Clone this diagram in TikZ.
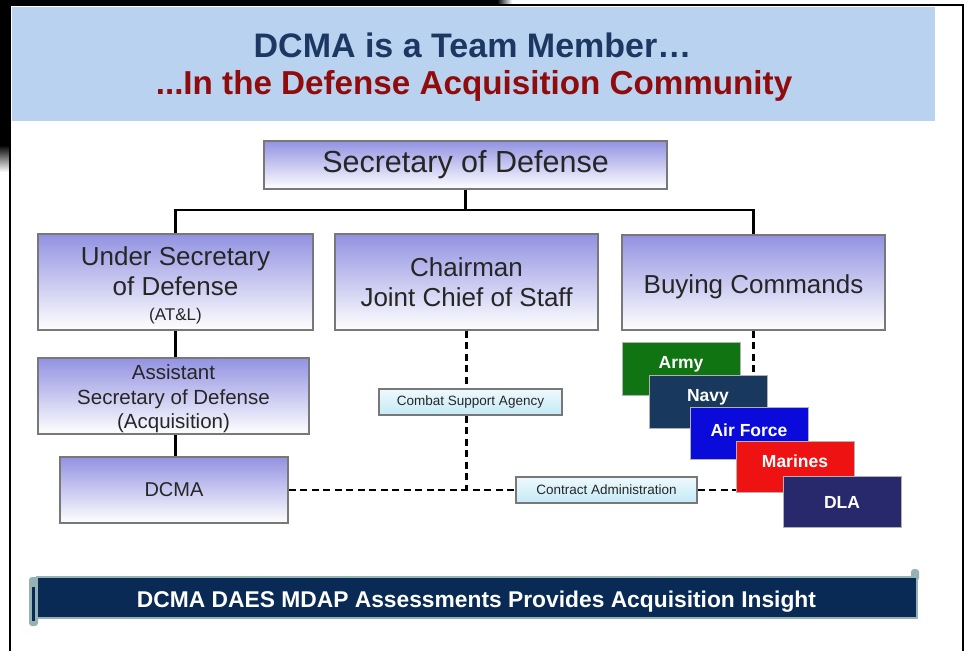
\documentclass[tikz,border=0pt]{standalone}
\usepackage{fontspec}
\setmainfont{Liberation Sans}
\usetikzlibrary{shadows}

\definecolor{bandblue}{RGB}{185,210,239}
\definecolor{titlenavy}{RGB}{28,56,98}
\definecolor{titlered}{RGB}{144,12,12}
\definecolor{boxtop}{RGB}{146,146,226}
\definecolor{boxmid}{RGB}{196,196,242}
\definecolor{boxedge}{RGB}{120,120,120}
\definecolor{boxtext}{RGB}{38,38,38}
\definecolor{tagtop}{RGB}{238,249,253}
\definecolor{tagbot}{RGB}{196,234,246}
\definecolor{armygreen}{RGB}{16,116,18}
\definecolor{navyblue}{RGB}{24,56,94}
\definecolor{afblue}{RGB}{10,10,218}
\definecolor{marinered}{RGB}{238,18,18}
\definecolor{dlablue}{RGB}{40,40,108}
\definecolor{bannernavy}{RGB}{8,42,84}
\definecolor{bannerrim}{RGB}{150,178,178}

\begin{document}
\begin{tikzpicture}[x=1pt,y=-1pt,
  orgbox/.style={draw=boxedge, line width=1.6pt, top color=boxtop,
    middle color=boxmid, bottom color=white, inner sep=0pt,
    text=boxtext, align=center,
    drop shadow={shadow xshift=1.2pt, shadow yshift=-1.2pt, opacity=0.35}},
  tagbox/.style={draw=boxedge, line width=1.4pt, top color=tagtop,
    bottom color=tagbot, inner sep=0pt, text=boxtext,
    minimum height=26pt, font=\fontsize{13.5}{16}\selectfont},
  svcbox/.style={draw=gray!60, line width=1pt, inner sep=0pt,
    minimum width=118pt, minimum height=52pt},
  svclbl/.style={text=white, font=\bfseries\fontsize{17.5}{20}\selectfont},
  solidlink/.style={line width=2.5pt, black},
  dashlink/.style={line width=2.8pt, black, dash pattern=on 7pt off 4.5pt},
  frameline/.style={line width=2.4pt, black}
]
\useasboundingbox (0,0) rectangle (966,651);

% dark surround behind the panel
\fill[black] (0,0) rectangle (497,5);
\shade[left color=black, right color=white] (497,0) rectangle (512,5);
\fill[black] (0,0) rectangle (10,145);
\shade[top color=black, bottom color=white] (0,145) rectangle (10,172);

% panel frame
\draw[frameline] (10,651) -- (10,5) -- (963,5) -- (963,651);

% header band and titles
\fill[bandblue] (12,7) rectangle (935,121);
\node[anchor=base, text=titlenavy, font=\bfseries\fontsize{34}{40}\selectfont]
  (title1) at (472.5,57) {DCMA is a Team Member…};
\node[anchor=base, text=titlered, font=\bfseries\fontsize{33.2}{40}\selectfont]
  (title2) at (474,94) {...In the Defense Acquisition Community};

% bus coordinates
\coordinate (bus) at (0,210);
\coordinate (join) at (0,490);

% organisation boxes
\node[orgbox, minimum width=403pt, minimum height=48pt,
  font=\fontsize{30.5}{36}\selectfont] (sec) at (465.5,165) {Secretary of Defense};
\node[orgbox, minimum width=275pt, minimum height=96pt,
  font=\fontsize{26}{30}\selectfont] (usd) at (175.5,282)
  {\rule{0pt}{25pt}Under Secretary\\of Defense\\[-5pt]{\fontsize{17}{20}\selectfont (AT\&L)}};
\node[orgbox, minimum width=263pt, minimum height=96pt,
  font=\fontsize{26}{30}\selectfont] (cjcs) at (466.5,282)
  {Chairman\\Joint Chief of Staff};
\node[orgbox, minimum width=263pt, minimum height=95pt,
  font=\fontsize{26}{30}\selectfont] (buy) at (753.5,282.5)
  {\rule{0pt}{27pt}Buying Commands};
\node[orgbox, minimum width=271pt, minimum height=76pt,
  font=\fontsize{20.5}{24.5}\selectfont] (asd) at (173.5,396)
  {\rule{0pt}{20.7pt}Assistant\\Secretary of Defense\\(Acquisition)};
\node[orgbox, minimum width=228pt, minimum height=66pt,
  font=\fontsize{20}{24}\selectfont] (dcma) at (174,490) {DCMA};

% solid reporting lines
\draw[solidlink] (sec.south) -- (sec.south |- bus);
\draw[solidlink] (usd.north) |- (buy.north |- bus) -- (buy.north);
\draw[solidlink] (usd.south) -- (usd.south |- asd.north);
\draw[solidlink] (usd.south |- asd.south) -- (usd.south |- dcma.north);

% tags on the dashed support lines
\node[tagbox, minimum width=183pt] (csa) at (470.5,402) {Combat Support Agency};
\node[tagbox, minimum width=181pt] (ca) at (606.5,490) {Contract Administration};

% service components
\node[svcbox, fill=armygreen, minimum height=53pt] (army) at (681,368.5) {};
\node[svclbl] (armyt) at ([yshift=4.5pt]army.center) {Army};
\node[svcbox, fill=navyblue, minimum height=53pt] (navy) at (708,401.5) {};
\node[svclbl] (navyt) at ([yshift=4pt]navy.center) {Navy};
\node[svcbox, fill=afblue] (af) at (749,433) {};
\node[svclbl] (aft) at ([yshift=3pt]af.center) {Air Force};
\node[svcbox, fill=marinered, minimum height=51pt] (mar) at (795,466.5) {};
\node[svclbl] (mart) at ([yshift=5pt]mar.center) {Marines};
\node[svcbox, fill=dlablue, minimum height=51pt] (dla) at (842,501.5) {};
\node[svclbl] (dlat) at ([yshift=-1pt]dla.center) {DLA};

% dashed support lines
\draw[dashlink] (cjcs.south) -- (cjcs.south |- csa.north);
\draw[dashlink] (cjcs.south |- csa.south) -- (cjcs.south |- join);
\draw[dashlink] (dcma.east) -- (ca.west);
\draw[dashlink] (ca.east) -- (mar.west |- ca.east);
\draw[dashlink] (buy.south) -- (buy.south |- navy.north);

% bottom banner
\fill[bannerrim, rounded corners=3pt] (29,577) rectangle (38,626);
\fill[bannernavy] (31.5,587) rectangle (34.5,621);
\fill[bannerrim, rounded corners=3pt] (911,569) rectangle (919,581);
\node[draw=bannerrim, line width=1.6pt, fill=bannernavy, minimum width=880pt,
  minimum height=41pt, inner sep=0pt] (banner) at (477,597.5) {};
\node[anchor=base, text=white, font=\bfseries\fontsize{22.8}{26}\selectfont]
  (bannert) at (476.5,607)
  {DCMA DAES MDAP Assessments Provides Acquisition Insight};
\end{tikzpicture}
\end{document}
